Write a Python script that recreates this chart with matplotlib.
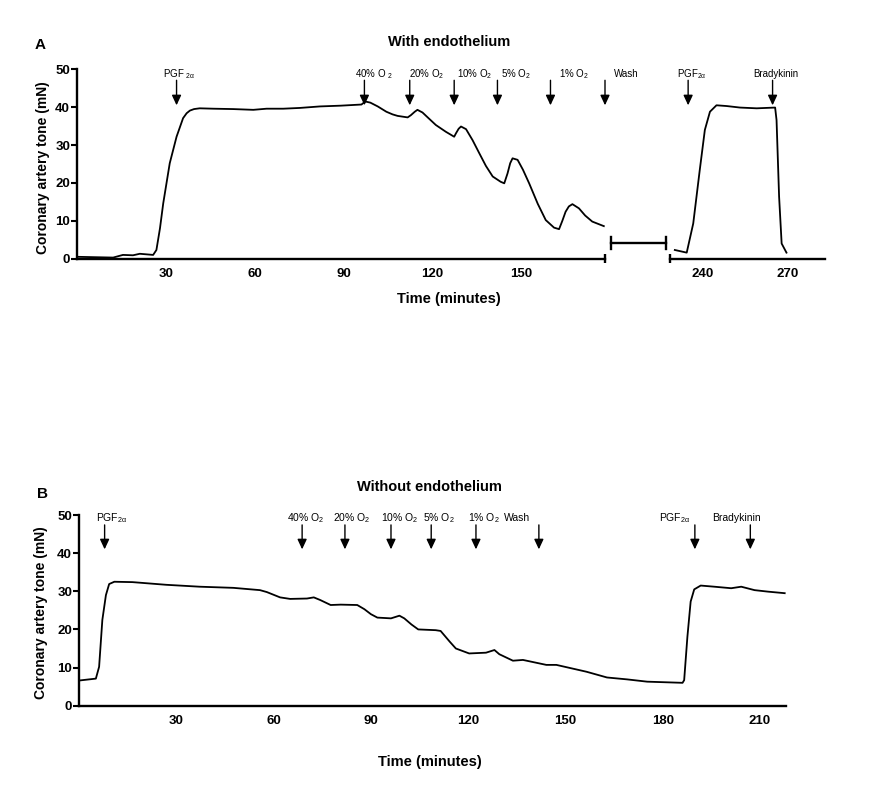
import matplotlib
matplotlib.use('Agg')
import matplotlib.pyplot as plt
from matplotlib.lines import Line2D

plt.rcParams['font.family'] = ['Liberation Sans', 'DejaVu Sans']
plt.rcParams['mathtext.fontset'] = 'custom'
plt.rcParams['mathtext.rm'] = 'Liberation Sans'
plt.rcParams['mathtext.it'] = 'Liberation Sans'

# ---- panel A data (with endothelium), trace before and after the break
a_time1 = [0, 6, 12.2, 15.5, 18.9, 21.2, 25.7, 26.8, 28, 29.1, 31.3, 33.6, 35.8,
           37.0, 38.1, 39.5, 41.4, 46, 52.7, 59.5, 64, 69.6, 75.2, 82.0, 89, 96.0,
           97.3, 99.0, 101.5, 104.4, 106.5, 108.2, 111.6, 112.7, 114.0, 114.9,
           116.6, 118.5, 121.1, 124.5, 127.3, 127.9, 128.8, 129.6, 131.3, 133.5,
           135.8, 138.0, 140.3, 143.0, 144.2, 145.3, 146.2, 147.0, 148.7, 150.5,
           152.6, 155.5, 158.2, 161, 162.7, 163.8, 164.9, 166.0, 167.2, 169.4,
           171.5, 173.9, 177.8]
a_tone1 = [0.5, 0.4, 0.3, 1.0, 0.9, 1.3, 1.0, 2.3, 8.0, 14.6, 25.2, 32.2, 37.1,
           38.4, 39.1, 39.5, 39.7, 39.6, 39.5, 39.3, 39.6, 39.6, 39.8, 40.2, 40.4,
           40.7, 41.5, 41.2, 40.2, 38.8, 38.1, 37.7, 37.3, 37.9, 38.8, 39.3, 38.6,
           37.2, 35.3, 33.5, 32.2, 33.1, 34.3, 34.9, 34.2, 31.3, 27.8, 24.5, 21.7,
           20.3, 19.9, 22.5, 25.2, 26.5, 26.1, 23.5, 19.9, 14.5, 10.2, 8.2, 7.8,
           10.0, 12.4, 13.8, 14.4, 13.3, 11.4, 9.8, 8.6]
a_time2 = [230.2, 234.4, 236.7, 239.0, 240.8, 242.6, 244.9, 248.5, 253.2, 259.1,
           265.6, 266.1, 267.0, 267.9, 269.6]
a_tone2 = [2.3, 1.6, 9.3, 23.4, 34.0, 38.8, 40.5, 40.3, 39.9, 39.7, 39.9, 36.6,
           16.4, 4.0, 1.6]

a_events = ['PGF $_{2\\alpha}$', '40% O $_{2}$', '20% O$_{2}$', '10% O$_{2}$',
            '5% O$_{2}$', '1% O$_{2}$', 'Wash', 'PGF$_{2\\alpha}$', 'Bradykinin']
a_event_time = [33.6, 97.0, 112.3, 127.3, 141.9, 159.8, 178.2, 234.9, 264.7]
a_label_time = [29.0, 93.7, 111.9, 128.1, 143.2, 162.8, 181.3, 230.9, 257.8]

# ---- panel B data (without endothelium)
b_time = [0, 5.2, 6.2, 7.2, 8.3, 9.3, 10.9, 16.5, 26.9, 37.2, 47.6, 55.8, 57.9,
          62.0, 65.1, 70.3, 72.4, 74.4, 77.6, 80.7, 85.8, 88.0, 90.0, 92.0, 96.2,
          98.8, 100.3, 102.5, 104.6, 110.0, 111.5, 114.3, 116.2, 120.3, 125.5,
          128.1, 129.6, 133.8, 136.9, 144.1, 147.2, 156.5, 162.8, 169.0, 175.2,
          186.1, 186.6, 187.6, 188.6, 189.7, 191.7, 195.9, 201.1, 204.2, 208.3,
          212.5, 217.6]
b_tone = [6.6, 7.1, 10.2, 22.5, 29.0, 31.9, 32.5, 32.4, 31.7, 31.2, 30.9, 30.3,
          29.8, 28.4, 28.0, 28.1, 28.4, 27.7, 26.4, 26.5, 26.4, 25.3, 24.0, 23.1,
          22.9, 23.6, 22.9, 21.3, 20.0, 19.8, 19.6, 16.8, 15.0, 13.7, 13.9, 14.6,
          13.5, 11.8, 12.0, 10.7, 10.7, 8.9, 7.4, 6.9, 6.3, 6.0, 6.7, 18.1, 27.3,
          30.5, 31.5, 31.2, 30.8, 31.2, 30.3, 29.9, 29.5]

b_events = ['PGF$_{2\\alpha}$', '40% O$_{2}$', '20% O$_{2}$', '10% O$_{2}$',
            '5% O$_{2}$', '1% O$_{2}$', 'Wash', 'PGF$_{2\\alpha}$', 'Bradykinin']
b_event_time = [7.9, 68.8, 82.0, 96.2, 108.6, 122.4, 141.8, 189.9, 207.0]
b_label_time = [5.3, 64.2, 78.4, 93.0, 106.0, 120.0, 131.1, 178.9, 195.3]

yticks = [0, 10, 20, 30, 40, 50]

fig = plt.figure(figsize=(8.85, 8.01), dpi=100)
W, H = 885.0, 801.0


def box(x0, x1, ytop, ybot):
    return [x0 / W, 1 - ybot / H, (x1 - x0) / W, (ybot - ytop) / H]


def style(ax, left=True):
    for s in ['top', 'right']:
        ax.spines[s].set_visible(False)
    ax.spines['bottom'].set_linewidth(1.7)
    ax.spines['left'].set_linewidth(1.7)
    ax.tick_params(axis='x', length=0, pad=7, labelsize=9.5)
    ax.tick_params(axis='y', length=4, width=1.5, pad=1, labelsize=9.5)
    for lab in ax.get_xticklabels() + ax.get_yticklabels():
        lab.set_fontweight('bold')
    if not left:
        ax.spines['left'].set_visible(False)
        ax.set_yticks([])
    ax.patch.set_alpha(0)


def arrows(ax, names, ev_t, lab_t, top, tip, ytext, size):
    for name, t, lt in zip(names, ev_t, lab_t):
        ax.annotate('', xy=(t, tip), xytext=(t, top), annotation_clip=False,
                    arrowprops=dict(arrowstyle='-|>,head_width=0.28,head_length=0.6',
                                    color='black', lw=1.0, shrinkA=0, shrinkB=0))
        ax.text(lt, ytext, name, fontsize=size, ha='left', va='center', clip_on=False)


def cap(ax, x):
    ax.plot([x, x], [-0.022, 0.025], transform=ax.transAxes, color='black',
            lw=1.7, clip_on=False, solid_capstyle='butt')


# ---- panel A
axA1 = fig.add_axes(box(77, 605, 69.3, 258.7))
axA1.plot(a_time1, a_tone1, color='black', lw=1.3)
axA1.set_xlim(0, 178.2)
axA1.set_ylim(0, 50)
axA1.set_xticks([30, 60, 90, 120, 150])
axA1.set_yticks(yticks)
style(axA1)
cap(axA1, 1)

axA2 = fig.add_axes(box(670, 825, 69.3, 258.7))
axA2.plot(a_time2, a_tone2, color='black', lw=1.3)
axA2.set_xlim(228.5, 283.2)
axA2.set_ylim(0, 50)
axA2.set_xticks([240, 270])
style(axA2, left=False)
cap(axA2, 0)

arrows(axA1, a_events[:7], a_event_time[:7], a_label_time[:7], 47.1, 40.5, 48.7, 7)
arrows(axA2, a_events[7:], a_event_time[7:], a_label_time[7:], 47.1, 40.5, 48.7, 7)

# break marker between the two segments
gy = 1 - 242.7 / H
fig.add_artist(Line2D([611 / W, 666 / W], [gy, gy], color='black', lw=1.7))
for gx in [611 / W, 666 / W]:
    fig.add_artist(Line2D([gx, gx], [gy - 6 / H, gy + 6 / H], color='black', lw=1.7))

fig.text(40 / W, 1 - 45 / H, 'A', fontsize=11, fontweight='bold', ha='center', va='center')
fig.text(449 / W, 1 - 42 / H, 'With endothelium', fontsize=10.5, fontweight='bold',
         ha='center', va='center')
fig.text(449 / W, 1 - 299 / H, 'Time (minutes)', fontsize=10.5, fontweight='bold',
         ha='center', va='center')
fig.text(43 / W, 1 - 168 / H, 'Coronary artery tone (mN)', fontsize=10, fontweight='bold',
         rotation=90, ha='center', va='center')

# ---- panel B
axB = fig.add_axes(box(79, 786, 515, 705.7))
axB.plot(b_time, b_tone, color='black', lw=1.3)
axB.set_xlim(0, 218)
axB.set_ylim(0, 50)
axB.set_xticks([30, 60, 90, 120, 150, 180, 210])
axB.set_yticks(yticks)
style(axB)
arrows(axB, b_events, b_event_time, b_label_time, 47.4, 41.0, 49.2, 7.5)

fig.text(43 / W, 1 - 494 / H, 'B', fontsize=11, fontweight='bold', ha='center', va='center')
fig.text(429 / W, 1 - 487 / H, 'Without endothelium', fontsize=10.5, fontweight='bold',
         ha='center', va='center')
fig.text(430 / W, 1 - 762 / H, 'Time (minutes)', fontsize=10.5, fontweight='bold',
         ha='center', va='center')
fig.text(41 / W, 1 - 613 / H, 'Coronary artery tone (mN)', fontsize=10, fontweight='bold',
         rotation=90, ha='center', va='center')

fig.savefig('out.png', dpi=100)
